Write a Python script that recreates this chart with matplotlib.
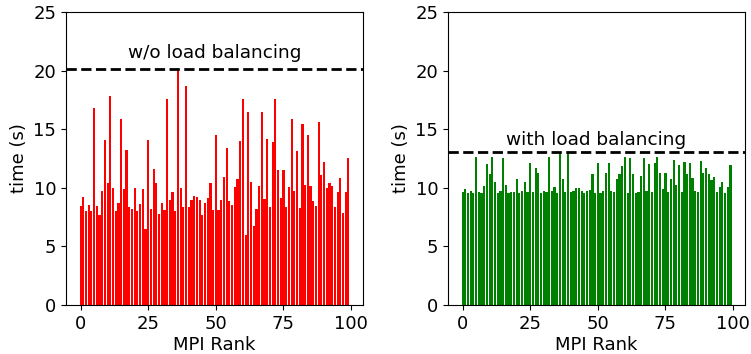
import numpy as np
import matplotlib
matplotlib.use("Agg")
import matplotlib.pyplot as plt

ranks = np.arange(100)

# time per MPI rank without load balancing (s)
time_no_lb = [
    8.46, 9.23, 8.0, 8.5, 8.0, 16.8, 8.46, 7.67, 9.7, 14.1,
    10.4, 17.8, 10.0, 8.0, 8.7, 15.9, 9.88, 13.2, 8.35, 8.18,
    10.0, 8.05, 8.6, 9.9, 6.47, 14.1, 8.18, 11.6, 10.4, 7.75,
    8.7, 8.1, 17.6, 9.0, 9.6, 8.0, 20.1, 10.0, 8.35, 18.65,
    8.35, 9.0, 9.28, 9.2, 9.0, 7.67, 8.7, 9.1, 10.39, 8.09,
    14.48, 8.09, 8.94, 10.9, 13.37, 8.86, 8.52, 10.05, 10.73, 13.97,
    17.55, 5.96, 16.44, 10.47, 6.73, 8.18, 10.14, 16.44, 9.03, 14.14,
    8.35, 13.88, 17.55, 11.5, 9.11, 11.5, 8.35, 10.05, 15.84, 9.71,
    13.12, 8.26, 15.42, 10.22, 14.48, 10.14, 8.86, 8.43, 15.59, 11.07,
    12.18, 9.97, 10.39, 10.14, 8.35, 9.63, 10.82, 7.84, 9.63, 12.52,
]

# time per MPI rank with load balancing (s)
time_lb = [
    9.63, 9.88, 9.54, 9.71, 9.54, 12.6, 9.63, 9.54, 10.14, 12.0,
    11.16, 12.6, 10.48, 9.54, 9.71, 12.52, 10.22, 9.54, 9.63, 9.63,
    10.73, 9.54, 9.71, 10.48, 9.63, 12.1, 9.63, 11.67, 11.24, 9.54,
    9.71, 9.63, 12.6, 9.71, 10.05, 9.54, 13.03, 10.73, 9.63, 13.03,
    9.63, 9.71, 9.97, 9.97, 9.71, 9.54, 9.71, 9.80, 11.16, 9.54,
    12.1, 9.54, 9.71, 11.24, 12.1, 9.71, 9.63, 10.73, 11.16, 11.84,
    12.6, 9.54, 12.52, 11.16, 9.54, 9.63, 10.99, 12.52, 9.71, 12.0,
    9.63, 12.1, 12.6, 11.24, 9.88, 11.24, 9.63, 10.73, 12.35, 10.22,
    11.93, 9.63, 12.18, 11.16, 12.1, 10.82, 9.71, 9.63, 12.27, 11.24,
    11.67, 11.16, 10.65, 10.9, 9.63, 10.05, 10.48, 9.54, 10.05, 11.93,
]

panels = [
    (time_no_lb, "red", "w/o load balancing"),
    (time_lb, "green", "with load balancing"),
]

fs = 13
fig = plt.figure(figsize=(7.51, 3.54), dpi=100)
lefts = [66 / 751, 448 / 751]

for left, (vals, color, label) in zip(lefts, panels):
    ax = fig.add_axes([left, 49 / 354, 297 / 751, 293 / 354])
    ax.bar(ranks, vals, color=color)
    peak = max(vals)
    ax.axhline(peak, color="black", linestyle="--", linewidth=2)
    # label sits just above the max time
    ax.text(49.5, peak * 1.05, label, ha="center", va="baseline", fontsize=13.3)
    ax.set_ylim(0, 25)
    ax.set_xticks([0, 25, 50, 75, 100])
    ax.set_xlabel("MPI Rank", fontsize=fs, labelpad=2)
    ax.set_ylabel("time (s)", fontsize=fs)
    ax.tick_params(labelsize=fs)

fig.savefig("out.png", dpi=100)
